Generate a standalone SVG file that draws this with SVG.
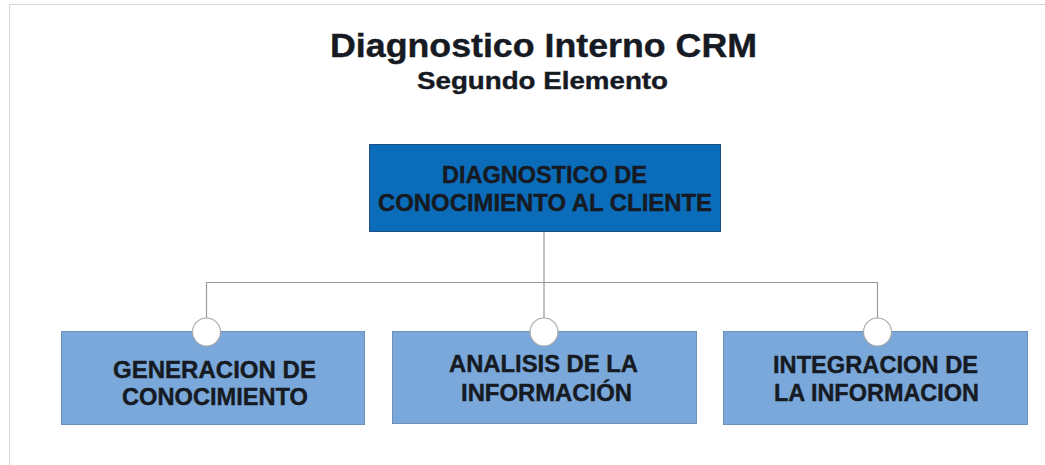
<svg xmlns="http://www.w3.org/2000/svg" width="1045" height="465" viewBox="0 0 1045 465">
<style>
.t{font-family:"Liberation Sans",Arial,sans-serif;font-weight:bold;fill:#161a22;stroke:#161a22;stroke-width:0.4;text-anchor:middle}
.main{fill:#0b6cb9;stroke:#1d4f80;stroke-width:1}
.sub{fill:#7aa8da;stroke:#6d8fb8;stroke-width:1}
.ln{stroke:#9a9a9a;stroke-width:1.2;fill:none}
.dot{fill:#ffffff;stroke:#a8a8a8;stroke-width:1.2}
.bt{font-size:23.5px}
</style>
<rect x="0" y="0" width="1045" height="465" fill="#ffffff"/>
<path d="M9.5 465 V4.5 H1045" fill="none" stroke="#d6d6d6" stroke-width="1"/>
<g id="title">
<text class="t" x="543.5" y="57" font-size="33" textLength="427" lengthAdjust="spacingAndGlyphs">Diagnostico Interno CRM</text>
<text class="t" x="542.5" y="89" font-size="23.5" textLength="251" lengthAdjust="spacingAndGlyphs">Segundo Elemento</text>
</g>
<g id="connectors">
<path class="ln" d="M544 232 V332"/>
<path class="ln" d="M206.5 332 V282.5 H877.5 V332"/>
</g>
<g id="node-main">
<rect class="main" x="369.5" y="144.5" width="351" height="87"/>
<text class="t bt" x="544.5" y="183" textLength="205" lengthAdjust="spacingAndGlyphs">DIAGNOSTICO DE</text>
<text class="t bt" x="545" y="211" textLength="334" lengthAdjust="spacingAndGlyphs">CONOCIMIENTO AL CLIENTE</text>
</g>
<g id="node-generacion">
<rect class="sub" x="61.5" y="331.5" width="303" height="93"/>
<circle class="dot" cx="206.5" cy="332" r="14"/>
<text class="t bt" x="214.5" y="378" textLength="203" lengthAdjust="spacingAndGlyphs">GENERACION DE</text>
<text class="t bt" x="215" y="405" textLength="186" lengthAdjust="spacingAndGlyphs">CONOCIMIENTO</text>
</g>
<g id="node-analisis">
<rect class="sub" x="392.5" y="331.5" width="304" height="92"/>
<circle class="dot" cx="544" cy="332" r="14"/>
<text class="t bt" x="543.5" y="372" textLength="189" lengthAdjust="spacingAndGlyphs">ANALISIS DE LA</text>
<text class="t bt" x="546.5" y="401" textLength="171" lengthAdjust="spacingAndGlyphs">INFORMACIÓN</text>
</g>
<g id="node-integracion">
<rect class="sub" x="723.5" y="331.5" width="304" height="93"/>
<circle class="dot" cx="877.5" cy="332" r="14"/>
<text class="t bt" x="875.5" y="373" textLength="205" lengthAdjust="spacingAndGlyphs">INTEGRACION DE</text>
<text class="t bt" x="876.5" y="401" textLength="205" lengthAdjust="spacingAndGlyphs">LA INFORMACION</text>
</g>
</svg>
